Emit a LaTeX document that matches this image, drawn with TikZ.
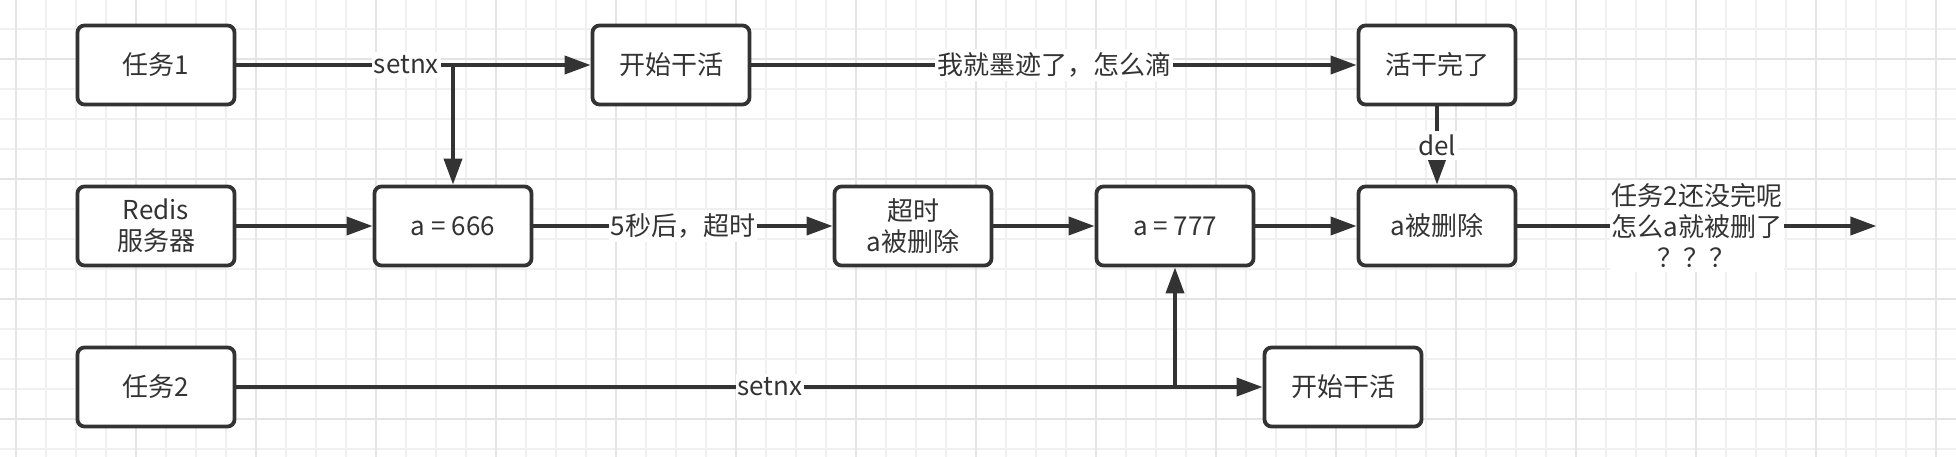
\documentclass[tikz,border=0pt]{standalone}
\usepackage{fontspec}
\setmainfont{Noto Sans CJK SC}
\usepackage{tikz}
\usetikzlibrary{arrows.meta, positioning}
\definecolor{ink}{HTML}{333333}
\definecolor{gridminor}{HTML}{F0F0F0}
\definecolor{gridmajor}{HTML}{E4E4E4}

\begin{document}
\begin{tikzpicture}[
  box/.style={draw=ink, line width=1.9pt, rounded corners=3.5pt, fill=white, text=ink, minimum width=78.5pt, minimum height=39.5pt, align=center, font=\fontsize{13pt}{15.5pt}\selectfont},
  lbl/.style={fill=white, text=ink, inner xsep=1pt, inner ysep=2pt, align=center, font=\fontsize{13pt}{15.5pt}\selectfont},
  arr/.style={-{Triangle[length=13pt, width=9pt]}, draw=ink, line width=1.9pt},
  on grid,
]
% Canvas with grid
\useasboundingbox (0,0) rectangle (978pt,-228pt);
\fill[white] (0,0) rectangle (978pt,-228pt);
\begin{scope}
  \clip (0,0) rectangle (978pt,-228pt);
  \draw[gridminor, line width=0.6pt, step=15pt, shift={(8pt,-14.5pt)}] (-30pt,30pt) grid (1000pt,-250pt);
  \draw[gridmajor, line width=0.8pt, step=60pt, shift={(8pt,-29.5pt)}] (-70pt,70pt) grid (1000pt,-250pt);
\end{scope}

% Row 1: task 1
\node[box] (task1) at (78pt,-32.5pt) {任务1};
\node[box, right=257.5pt of task1] (work1) {开始干活};
\node[box, right=383pt of work1] (done1) {活干完了};
% Row 2: redis key
\node[box, below=80.5pt of task1] (redis) {Redis\\服务器};
\node[box, right=148.5pt of redis] (key666) {a = 666};
\node[box, right=230pt of key666] (expire) {超时\\a被删除};
\node[box, right=131pt of expire] (key777) {a = 777};
\node[box, right=131pt of key777] (deleted) {a被删除};
% Row 3: task 2
\node[box, below=80.5pt of redis] (task2) {任务2};
\node[box, right=593.5pt of task2] (work2) {开始干活};

% Branch points and free end
\coordinate (fork1) at (task1 -| key666);
\coordinate (fork2) at (task2 -| key777);
\coordinate[right=179.5pt of deleted.east] (lost);

% Task 1 flow
\draw[arr] (task1) -- node[lbl, pos=0.48] {setnx} (work1);
\draw[arr] (fork1) -- (key666);
\draw[arr] (work1) -- node[lbl] {我就墨迹了，怎么滴} (done1);
\draw[arr] (done1) -- node[lbl] {del} (deleted);
% Key timeline
\draw[arr] (redis) -- (key666);
\draw[arr] (key666) -- node[lbl] {5秒后，超时} (expire);
\draw[arr] (expire) -- (key777);
\draw[arr] (key777) -- (deleted);
\draw[arr] (deleted) -- node[lbl] {任务2还没完呢\\怎么a就被删了\\？？？} (lost);
% Task 2 flow
\draw[arr] (task2) -- node[lbl, pos=0.52] {setnx} (work2);
\draw[arr] (fork2) -- (key777);
\end{tikzpicture}
\end{document}
